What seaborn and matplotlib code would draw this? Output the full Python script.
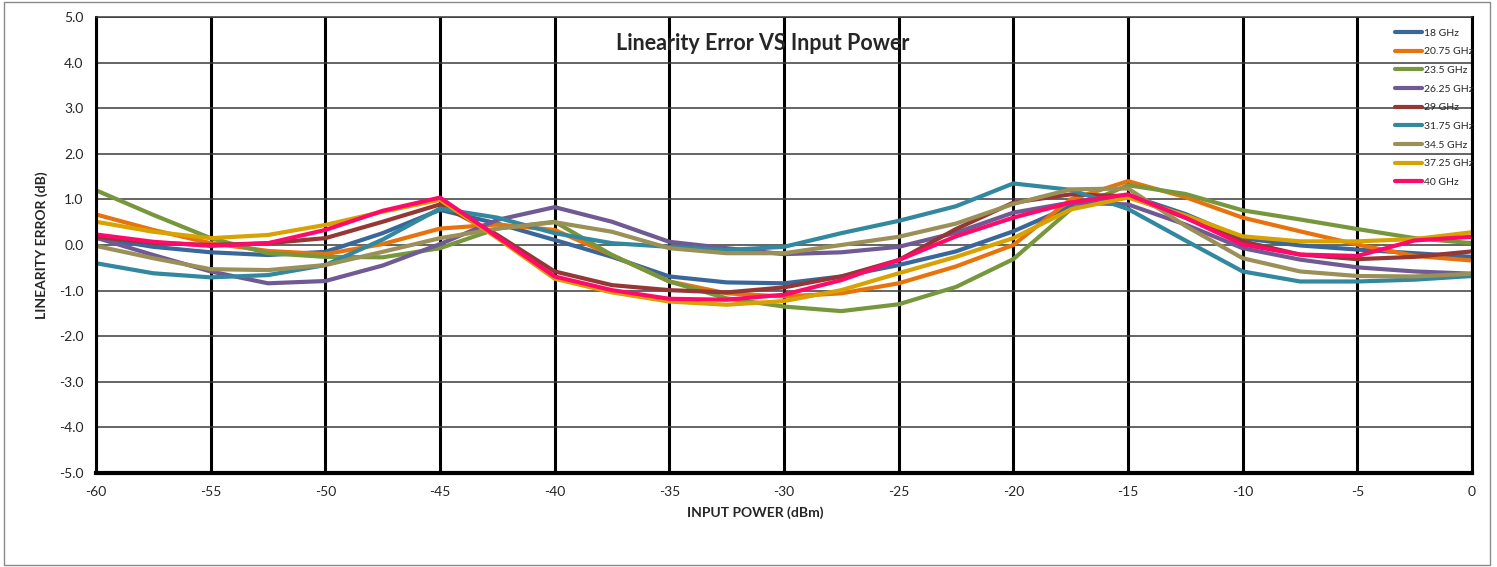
import numpy as np
import pandas as pd
import matplotlib.pyplot as plt
import seaborn as sns
from matplotlib.patches import Rectangle

# Input power points (dBm)
input_power = [-60, -57.5, -55, -52.5, -50, -47.5, -45, -42.5, -40, -37.5, -35, -32.5, -30,
               -27.5, -25, -22.5, -20, -17.5, -15, -12.5, -10, -7.5, -5, -2.5, 0]

freqs = ["18 GHz", "20.75 GHz", "23.5 GHz", "26.25 GHz", "29 GHz",
         "31.75 GHz", "34.5 GHz", "37.25 GHz", "40 GHz"]

# Linearity error (dB)
err_18 = [0.16, -0.04, -0.16, -0.22, -0.15, 0.26, 0.77, 0.47, 0.11, -0.26, -0.69, -0.82, -0.84,
          -0.69, -0.44, -0.14, 0.30, 0.85, 1.10, 0.68, 0.15, -0.01, -0.10, -0.18, -0.26]
err_20_75 = [0.67, 0.33, 0.04, -0.13, -0.20, 0.02, 0.36, 0.45, 0.33, -0.22, -0.80, -1.06, -1.13,
             -1.06, -0.84, -0.47, 0.00, 1.00, 1.40, 1.05, 0.60, 0.30, 0.01, -0.24, -0.34]
err_23_5 = [1.20, 0.66, 0.15, -0.18, -0.26, -0.27, -0.07, 0.36, 0.51, -0.22, -0.80, -1.17, -1.35,
            -1.45, -1.30, -0.92, -0.31, 0.78, 1.31, 1.12, 0.76, 0.56, 0.35, 0.15, 0.04]
err_26_25 = [0.16, -0.22, -0.58, -0.84, -0.79, -0.45, 0.02, 0.55, 0.83, 0.51, 0.07, -0.07, -0.20,
             -0.16, -0.04, 0.27, 0.71, 0.93, 0.89, 0.45, -0.07, -0.32, -0.49, -0.58, -0.63]
err_29 = [0.18, 0.05, 0.00, 0.04, 0.15, 0.51, 0.89, 0.22, -0.58, -0.88, -0.99, -1.04, -0.93,
          -0.69, -0.33, 0.35, 0.93, 1.11, 1.07, 0.60, 0.08, -0.21, -0.31, -0.26, -0.14]
err_31_75 = [-0.40, -0.62, -0.71, -0.66, -0.44, 0.12, 0.80, 0.60, 0.26, 0.04, -0.04, -0.11, -0.04,
             0.26, 0.53, 0.85, 1.35, 1.21, 0.79, 0.10, -0.58, -0.80, -0.80, -0.76, -0.68]
err_34_5 = [-0.02, -0.29, -0.53, -0.55, -0.44, -0.15, 0.15, 0.36, 0.50, 0.29, -0.07, -0.18, -0.18,
            0.00, 0.18, 0.47, 0.90, 1.22, 1.24, 0.42, -0.29, -0.58, -0.68, -0.69, -0.63]
err_37_25 = [0.51, 0.29, 0.15, 0.22, 0.44, 0.73, 0.99, 0.15, -0.74, -1.04, -1.24, -1.31, -1.23,
             -0.99, -0.62, -0.26, 0.15, 0.78, 1.04, 0.65, 0.19, 0.08, 0.08, 0.13, 0.28]
err_40 = [0.23, 0.07, -0.02, 0.04, 0.33, 0.75, 1.04, 0.18, -0.69, -0.99, -1.18, -1.20, -1.09,
          -0.77, -0.33, 0.19, 0.60, 0.93, 1.11, 0.60, 0.01, -0.21, -0.24, 0.10, 0.18]

series = [err_18, err_20_75, err_23_5, err_26_25, err_29, err_31_75, err_34_5, err_37_25, err_40]
colors = ["#3a679a", "#e8730c", "#77973d", "#6f5a93", "#953735",
          "#31889f", "#9a9058", "#d8a200", "#ff0a6a"]

y_ticks = [-5, -4, -3, -2, -1, 0, 1, 2, 3, 4, 5]
x_ticks = [-60, -55, -50, -45, -40, -35, -30, -25, -20, -15, -10, -5, 0]

# long-form table for seaborn
rows = []
for name, vals in zip(freqs, series):
    for p, v in zip(input_power, vals):
        rows.append((name, p, v))
df = pd.DataFrame(rows, columns=["freq", "power", "error"])

sns.set_style("white")
plt.rcParams["font.family"] = ["Lato", "DejaVu Sans"]

W, H = 1497, 567
fig = plt.figure(figsize=(W / 100, H / 100), dpi=100)
ax = fig.add_axes([96 / W, 1 - 473 / H, (1472 - 96) / W, (473 - 17) / H])

sns.lineplot(data=df, x="power", y="error", hue="freq", hue_order=freqs,
             palette=colors, linewidth=3, estimator=None, sort=False, ax=ax)

ax.set_xlim(-60, 0)
ax.set_ylim(-5, 5)
ax.set_xticks(x_ticks)
ax.set_xticklabels([str(t) for t in x_ticks], fontsize=10)
ax.set_yticks(y_ticks)
ax.set_yticklabels([f"{t:.1f}" for t in y_ticks], fontsize=10)

ax.set_axisbelow(True)
ax.grid(axis="x", color="black", linewidth=2.2)
ax.grid(axis="y", color="#3a3a3a", linewidth=1.1)
ax.tick_params(axis="both", direction="out", length=5, width=1.5, color="black", pad=4)

ax.spines["top"].set_color("#3a3a3a")
ax.spines["top"].set_linewidth(1.1)
for side in ["left", "right"]:
    ax.spines[side].set_color("black")
    ax.spines[side].set_linewidth(2.2)
ax.spines["bottom"].set_color("black")
ax.spines["bottom"].set_linewidth(3)

ax.set_xlabel("")
ax.set_ylabel("")
fig.text(755 / W, 1 - 513 / H, "INPUT POWER (dBm)", ha="center", va="center",
         fontsize=10, fontweight="bold")
fig.text(42 / W, 1 - 245 / H, "LINEARITY ERROR (dB)", ha="center", va="center",
         rotation=90, fontsize=10, fontweight="bold")
fig.text(763 / W, 1 - 43 / H, "Linearity Error VS Input Power", ha="center", va="center",
         fontsize=15.5, fontweight="bold")

ax.legend(loc="upper left", bbox_to_anchor=((1390 - 96) / 1376, (473 - 23) / 456),
          frameon=False, fontsize=7.5, handlelength=2.6, handletextpad=0.2,
          labelspacing=0.9, borderpad=0)

fig.add_artist(Rectangle((4 / W, 2 / H), (1490 - 4) / W, (565 - 2) / H,
                         transform=fig.transFigure, fill=False,
                         edgecolor="#8a8a8a", linewidth=1))

fig.savefig("out.png", dpi=100)
